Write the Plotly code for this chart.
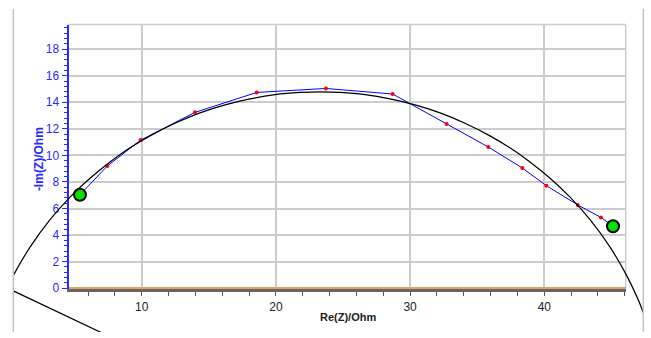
import plotly.graph_objects as go

# ---------------- data ----------------
re_z = [5.40, 7.44, 9.92, 13.97, 18.57, 23.73, 28.70, 32.72, 35.83, 38.36, 40.15, 42.49, 44.22, 45.12]
im_z = [7.04, 9.20, 11.15, 13.24, 14.74, 15.04, 14.62, 12.36, 10.63, 9.05, 7.72, 6.27, 5.33, 4.67]

fit_re = [-0.56, 0.41, 1.68, 3.17, 4.66, 6.15, 7.64, 9.13, 10.62, 12.48, 14.34, 16.21, 18.07,
          19.93, 21.80, 23.29, 24.78, 26.64, 28.50, 30.37, 32.23, 34.09, 35.95, 37.44, 38.93,
          40.43, 41.92, 43.41, 44.90, 46.16, 47.36, 48.25]
fit_im = [-1.20, 0.91, 3.09, 5.16, 6.86, 8.28, 9.51, 10.57, 11.47, 12.42, 13.20, 13.80, 14.25,
          14.57, 14.74, 14.79, 14.74, 14.57, 14.25, 13.80, 13.20, 12.42, 11.47, 10.57, 9.51,
          8.28, 6.86, 5.16, 3.09, 0.91, -1.77, -4.63]

tail_re = [-0.56, 8.38]
tail_im = [0.27, -4.01]

x_ticks = [10, 20, 30, 40]
y_ticks = [0, 2, 4, 6, 8, 10, 12, 14, 16, 18]

# ---------------- layout geometry (pixels) ----------------
W, H = 651, 338
px_per_x = 13.42      # pixels per Ohm on x
x0_px = 7.5           # pixel of Re = 0
px_per_y = 13.52      # pixels per Ohm on y
y0_px = 293.4         # pixel of -Im = 0

# main plot area
L, R, T, B = 68.5, 625.7, 25.0, 294.5
# outer clip box
OL, OR, OT, OB = 13.3, 643.3, 9.0, 338.0

def xr(a, b):
    return [(a - x0_px) / px_per_x, (b - x0_px) / px_per_x]

def yr(top, bottom):
    return [(y0_px - bottom) / px_per_y, (y0_px - top) / px_per_y]

font = "Liberation Sans, Arial, sans-serif"
blue = "#2a2aff"

fig = go.Figure()

fig.add_trace(go.Scatter(
    x=re_z, y=im_z, mode="lines+markers",
    line=dict(color="#0000ff", width=1),
    marker=dict(color="#ff0000", size=4),
    xaxis="x", yaxis="y", showlegend=False, hoverinfo="skip"))

fig.add_trace(go.Scatter(
    x=[re_z[0], re_z[-1]], y=[im_z[0], im_z[-1]], mode="markers",
    marker=dict(color="#00e400", size=12, line=dict(color="#000000", width=2)),
    xaxis="x", yaxis="y", showlegend=False, hoverinfo="skip"))

fig.add_trace(go.Scatter(
    x=fit_re, y=fit_im, mode="lines",
    line=dict(color="#000000", width=1.2, shape="spline"),
    xaxis="x2", yaxis="y2", showlegend=False, hoverinfo="skip"))

fig.add_trace(go.Scatter(
    x=tail_re, y=tail_im, mode="lines",
    line=dict(color="#000000", width=1.2),
    xaxis="x2", yaxis="y2", showlegend=False, hoverinfo="skip"))

fig.update_layout(
    width=W, height=H,
    margin=dict(l=0, r=0, t=0, b=0),
    paper_bgcolor="white", plot_bgcolor="rgba(0,0,0,0)",
    font=dict(family=font),
    xaxis=dict(
        domain=[L / W, R / W], range=xr(L, R), anchor="y",
        tickvals=x_ticks, ticktext=[str(v) for v in x_ticks],
        ticks="outside", ticklen=4, tickwidth=1, tickcolor="#555555",
        minor=dict(dtick=2, tick0=0, ticks="outside", ticklen=4, tickcolor="#555555", showgrid=False),
        showline=True, linecolor="#666666", linewidth=3,
        showgrid=True, gridcolor="#cccccc", gridwidth=1.5,
        zeroline=False,
        tickfont=dict(size=12, color="#222222", family=font),
    ),
    yaxis=dict(
        domain=[(H - B) / H, (H - T) / H], range=yr(T, B), anchor="x",
        tickvals=y_ticks, ticktext=[str(v) for v in y_ticks],
        ticks="outside", ticklen=5, tickwidth=1, tickcolor=blue,
        minor=dict(dtick=0.4, tick0=0, ticks="outside", ticklen=3, tickcolor=blue, showgrid=False),
        showline=True, linecolor=blue, linewidth=2,
        showgrid=True, gridcolor="#cccccc", gridwidth=1.5,
        zeroline=True, zerolinecolor="#e8a060", zerolinewidth=2.5,
        tickfont=dict(size=12, color=blue, family=font),
    ),
    xaxis2=dict(domain=[OL / W, OR / W], range=xr(OL, OR), anchor="y2", visible=False),
    yaxis2=dict(domain=[(H - OB) / H, (H - OT) / H], range=yr(OT, OB), anchor="x2", visible=False),
    shapes=[
        # plot frame (top and right)
        dict(type="line", xref="paper", yref="paper", x0=L / W, x1=R / W,
             y0=(H - T) / H, y1=(H - T) / H, line=dict(color="#cccccc", width=1.5), layer="below"),
        dict(type="line", xref="paper", yref="paper", x0=R / W, x1=R / W,
             y0=(H - B) / H, y1=(H - T) / H, line=dict(color="#cccccc", width=1.5), layer="below"),
        # outer panel borders
        dict(type="line", xref="paper", yref="paper", x0=OL / W, x1=OL / W,
             y0=0, y1=(H - OT) / H, line=dict(color="#c4c4c4", width=1.5)),
        dict(type="line", xref="paper", yref="paper", x0=OR / W, x1=OR / W,
             y0=0, y1=(H - OT) / H, line=dict(color="#c4c4c4", width=1.5)),
    ],
    annotations=[
        dict(text="<b>-Im(Z)/Ohm</b>", xref="paper", yref="paper",
             x=39 / W, y=(H - 162) / H, textangle=-90, showarrow=False,
             font=dict(size=12, color=blue, family=font), xanchor="center", yanchor="middle"),
        dict(text="<b>Re(Z)/Ohm</b>", xref="paper", yref="paper",
             x=347.5 / W, y=(H - 323) / H, showarrow=False,
             font=dict(size=11, color="#222222", family=font), xanchor="center", yanchor="middle"),
    ],
)

fig.write_html("out.html")
